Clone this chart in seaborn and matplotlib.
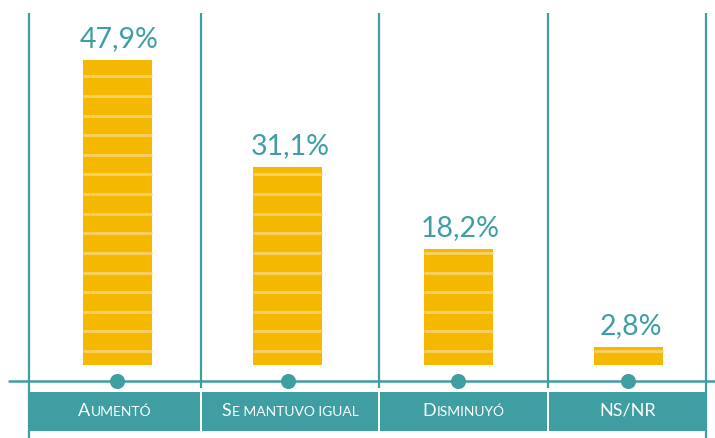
import matplotlib
matplotlib.use("Agg")
import matplotlib.pyplot as plt
import seaborn as sns
import pandas as pd
from matplotlib.patches import Rectangle
from matplotlib.offsetbox import TextArea, HPacker, AnnotationBbox

categories = ["Aumentó", "Se mantuvo igual", "Disminuyó", "NS/NR"]
values = [47.9, 31.1, 18.2, 2.8]
value_labels = ["47,9%", "31,1%", "18,2%", "2,8%"]
# category names set in small caps: (large initial, small-cap rest)
tick_labels = [("A", "UMENTÓ"), ("S", "E MANTUVO IGUAL"), ("D", "ISMINUYÓ"), ("NS/NR", "")]

TEAL = "#3F9EA2"
GOLD = "#F4B800"
STRIPE = "#F8D068"

sns.set_theme(style="white")
plt.rcParams["font.family"] = ["Lato", "DejaVu Sans"]

W, H = 715, 439
fig = plt.figure(figsize=(W / 100, H / 100), dpi=100)
ax = fig.add_axes([0, 0, 1, 1])

# layout helpers: convert figure pixels to data units
X0, XS = 117.5, 170.33   # pixel x of category 0, pixels per category
Y0, YS = 366.0, 6.368    # pixel y of value 0, pixels per percentage point


def dx(p):
    return (p - X0) / XS


def dy(p):
    return (Y0 - p) / YS


df = pd.DataFrame({"cat": categories, "val": values})
sns.barplot(data=df, x="cat", y="val", color=GOLD, saturation=1, width=0.405,
            linewidth=0, ax=ax, zorder=2)

# light horizontal stripes across each bar
step, start = 3.08, 2.2
for patch in ax.patches:
    x0, w, h = patch.get_x(), patch.get_width(), patch.get_height()
    y = start
    while y < h - 0.3:
        ax.plot([x0, x0 + w], [y, y], color=STRIPE, lw=2.0, solid_capstyle="butt", zorder=3)
        y += step

# value labels above the bars
for i, (v, lab) in enumerate(zip(values, value_labels)):
    ax.annotate(lab, (i, v), xytext=(1.5, 10), textcoords="offset points",
                ha="center", va="baseline", fontsize=20.5, fontweight="normal",
                color=TEAL, zorder=6)

# column separators
for xp, ybot in [(29, 439), (201, 389), (379, 389), (548, 389), (706, 439)]:
    ax.plot([dx(xp), dx(xp)], [dy(14), dy(ybot)], color=TEAL, lw=1.6,
            solid_capstyle="butt", zorder=1)

# baseline with category markers
ax.plot([dx(9), dx(715)], [dy(382), dy(382)], color=TEAL, lw=1.8, zorder=4)
ax.scatter(range(len(categories)), [dy(382)] * len(categories), s=118,
           color=TEAL, linewidths=0, zorder=5)

# teal label boxes
boxes = [(29, 200), (202, 378), (380, 547), (549, 706)]
for (l, r), (big, small) in zip(boxes, tick_labels):
    ax.add_patch(Rectangle((dx(l), dy(432)), dx(r) - dx(l), dy(393) - dy(432),
                           facecolor=TEAL, edgecolor="none", zorder=4))
    parts = [TextArea(big, textprops=dict(color="white", fontsize=13))]
    if small:
        parts.append(TextArea(small, textprops=dict(color="white", fontsize=10)))
    packed = HPacker(children=parts, align="baseline", pad=0, sep=0.5)
    ab = AnnotationBbox(packed, (dx((l + r) / 2), dy(411)), frameon=False,
                        box_alignment=(0.5, 0.5), pad=0, zorder=6)
    ax.add_artist(ab)

ax.set_xlim(dx(0), dx(W))
ax.set_ylim(dy(H), dy(0))
ax.set_axis_off()

fig.savefig("out.png", dpi=100)
